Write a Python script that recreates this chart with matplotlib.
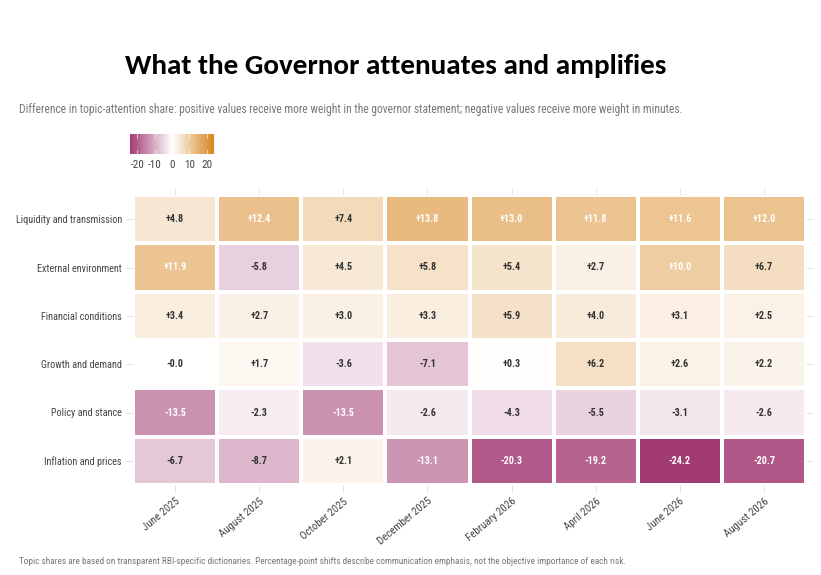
import numpy as np
import matplotlib
matplotlib.use("Agg")
import matplotlib.pyplot as plt
from matplotlib.colors import LinearSegmentedColormap, Normalize

topics = ["Liquidity and transmission", "External environment", "Financial conditions",
          "Growth and demand", "Policy and stance", "Inflation and prices"]
meetings = ["June 2025", "August 2025", "October 2025", "December 2025",
            "February 2026", "April 2026", "June 2026", "August 2026"]

liquidity = [4.8, 12.4, 7.4, 13.8, 13.0, 11.8, 11.6, 12.0]
external = [11.9, -5.8, 4.5, 5.8, 5.4, 2.7, 10.0, 6.7]
financial = [3.4, 2.7, 3.0, 3.3, 5.9, 4.0, 3.1, 2.5]
growth = [-0.0, 1.7, -3.6, -7.1, 0.3, 6.2, 2.6, 2.2]
policy = [-13.5, -2.3, -13.5, -2.6, -4.3, -5.5, -3.1, -2.6]
inflation = [-6.7, -8.7, 2.1, -13.1, -20.3, -19.2, -24.2, -20.7]

cbar_ticks = [-20, -10, 0, 10, 20]

vals = np.array([liquidity, external, financial, growth, policy, inflation])
lim = np.abs(vals).max()

cmap = LinearSegmentedColormap.from_list("gov", ["#a33b73", "#ffffff", "#d7861f"])
norm = Normalize(-lim, lim)

narrow = ["Roboto Condensed", "Archivo Narrow", "PT Sans Narrow", "Liberation Sans", "DejaVu Sans"]
plt.rcParams['font.family'] = narrow
W, H = 821, 575
fig = plt.figure(figsize=(W / 100, H / 100), dpi=100)

ax = fig.add_axes([133 / W, 1 - 485 / H, (806 - 133) / W, (485 - 195) / H])
ax.pcolormesh(vals, cmap=cmap, norm=norm, edgecolors="white", linewidth=1.5)
ax.set_xlim(0, len(meetings))
ax.set_ylim(len(topics), 0)
for s in ax.spines.values():
    s.set_visible(False)

ax.set_xticks(np.arange(len(meetings)) + 0.5)
ax.set_xticklabels(meetings, rotation=40, ha="right", rotation_mode="anchor",
                   fontsize=7.8, color="#444444")
ax.set_yticks(np.arange(len(topics)) + 0.5)
ax.set_yticklabels(topics, fontsize=7.3, color="#444444")
ax.tick_params(which="both", top=True, right=True, length=5, width=0.6,
               color="#dddddd", pad=3)

for i in range(vals.shape[0]):
    for j in range(vals.shape[1]):
        v = vals[i, j]
        col = "white" if abs(v) >= 10 else "#333333"
        ax.text(j + 0.5, i + 0.5, f"{v:+.1f}", ha="center", va="center",
                fontsize=7.3, fontweight="bold", color=col)

# colour legend
cax = fig.add_axes([130 / W, 1 - 154 / H, 84 / W, 20 / H])
grad = np.linspace(-lim, lim, 256)[None, :]
cax.imshow(grad, cmap=cmap, norm=norm, aspect="auto", extent=[-lim, lim, 0, 1])
cax.set_yticks([])
cax.set_xticks(cbar_ticks)
cax.set_xticklabels([str(t) for t in cbar_ticks], fontsize=8, color="#444444")
cax.tick_params(axis="x", length=0, pad=4)
for t in cbar_ticks:
    cax.plot([t, t], [0, 0.2], color="white", lw=0.6, alpha=0.7)
    cax.plot([t, t], [0.8, 1], color="white", lw=0.6, alpha=0.7)
for s in cax.spines.values():
    s.set_visible(False)

fig.text(396 / W, 1 - 66 / H, "What the Governor attenuates and amplifies",
         ha="center", va="center", fontsize=21, fontweight="bold",
         family=["Carlito", "Open Sans", "DejaVu Sans"], color="black")
fig.text(19 / W, 1 - 110 / H,
         "Difference in topic-attention share: positive values receive more weight in the "
         "governor statement; negative values receive more weight in minutes.",
         ha="left", va="center", fontsize=8.3, color="#777777")
fig.text(19 / W, 1 - 562 / H,
         "Topic shares are based on transparent RBI-specific dictionaries. Percentage-point "
         "shifts describe communication emphasis, not the objective importance of each risk.",
         ha="left", va="center", fontsize=6.7, color="#777777")

fig.savefig("out.png", dpi=100)
